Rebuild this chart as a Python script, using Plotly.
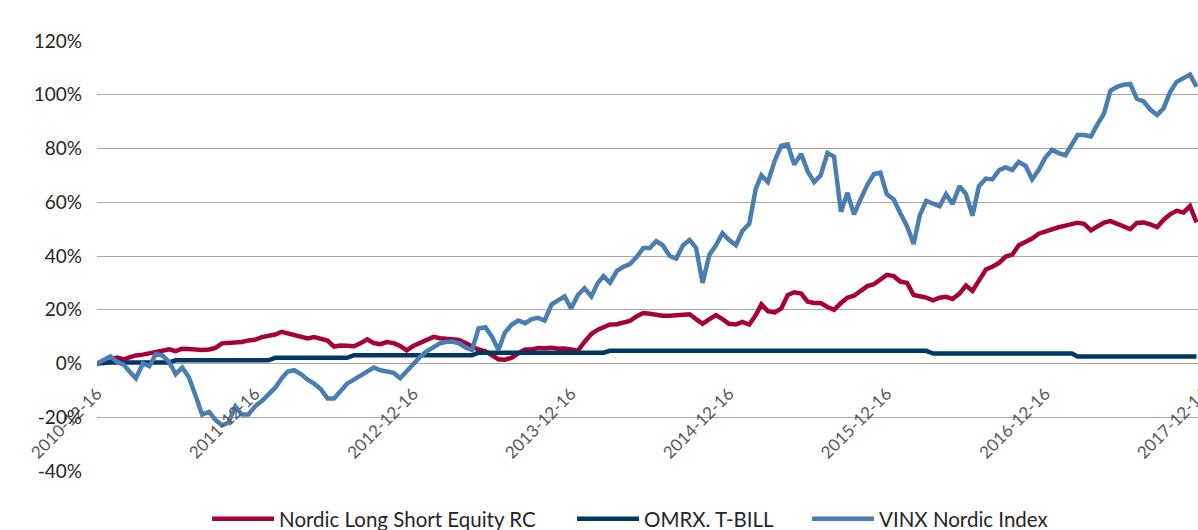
import plotly.graph_objects as go

# semi-monthly observation dates
dates = [
    "2010-12-16",
    "2011-01-01", "2011-01-16", "2011-02-01", "2011-02-16", "2011-03-01", "2011-03-16",
    "2011-04-01", "2011-04-16", "2011-05-01", "2011-05-16", "2011-06-01", "2011-06-16",
    "2011-07-01", "2011-07-16", "2011-08-01", "2011-08-16", "2011-09-01", "2011-09-16",
    "2011-10-01", "2011-10-16", "2011-11-01", "2011-11-16", "2011-12-01", "2011-12-16",
    "2012-01-01", "2012-01-16", "2012-02-01", "2012-02-16", "2012-03-01", "2012-03-16",
    "2012-04-01", "2012-04-16", "2012-05-01", "2012-05-16", "2012-06-01", "2012-06-16",
    "2012-07-01", "2012-07-16", "2012-08-01", "2012-08-16", "2012-09-01", "2012-09-16",
    "2012-10-01", "2012-10-16", "2012-11-01", "2012-11-16", "2012-12-01", "2012-12-16",
    "2013-01-01", "2013-01-16", "2013-02-01", "2013-02-16", "2013-03-01", "2013-03-16",
    "2013-04-01", "2013-04-16", "2013-05-01", "2013-05-16", "2013-06-01", "2013-06-16",
    "2013-07-01", "2013-07-16", "2013-08-01", "2013-08-16", "2013-09-01", "2013-09-16",
    "2013-10-01", "2013-10-16", "2013-11-01", "2013-11-16", "2013-12-01", "2013-12-16",
    "2014-01-01", "2014-01-16", "2014-02-01", "2014-02-16", "2014-03-01", "2014-03-16",
    "2014-04-01", "2014-04-16", "2014-05-01", "2014-05-16", "2014-06-01", "2014-06-16",
    "2014-07-01", "2014-07-16", "2014-08-01", "2014-08-16", "2014-09-01", "2014-09-16",
    "2014-10-01", "2014-10-16", "2014-11-01", "2014-11-16", "2014-12-01", "2014-12-16",
    "2015-01-01", "2015-01-16", "2015-02-01", "2015-02-16", "2015-03-01", "2015-03-16",
    "2015-04-01", "2015-04-16", "2015-05-01", "2015-05-16", "2015-06-01", "2015-06-16",
    "2015-07-01", "2015-07-16", "2015-08-01", "2015-08-16", "2015-09-01", "2015-09-16",
    "2015-10-01", "2015-10-16", "2015-11-01", "2015-11-16", "2015-12-01", "2015-12-16",
    "2016-01-01", "2016-01-16", "2016-02-01", "2016-02-16", "2016-03-01", "2016-03-16",
    "2016-04-01", "2016-04-16", "2016-05-01", "2016-05-16", "2016-06-01", "2016-06-16",
    "2016-07-01", "2016-07-16", "2016-08-01", "2016-08-16", "2016-09-01", "2016-09-16",
    "2016-10-01", "2016-10-16", "2016-11-01", "2016-11-16", "2016-12-01", "2016-12-16",
    "2017-01-01", "2017-01-16", "2017-02-01", "2017-02-16", "2017-03-01", "2017-03-16",
    "2017-04-01", "2017-04-16", "2017-05-01", "2017-05-16", "2017-06-01", "2017-06-16",
    "2017-07-01", "2017-07-16", "2017-08-01", "2017-08-16", "2017-09-01", "2017-09-16",
    "2017-10-01", "2017-10-16", "2017-11-01", "2017-11-16", "2017-12-01",
]

# cumulative return, %
nordic_ls = [
    0,
    1, 1.5, 2.2, 1.5, 2.3, 3, 3.3, 3.8, 4.2, 4.8, 5.3, 4.6,
    5.5, 5.4, 5, 5, 5.2, 5.8, 7.5, 7.6, 7.8, 8, 8.6, 8.8,
    9.8, 10.2, 10.8, 11.8, 11.3, 10.6, 10, 9.3, 9.8, 9.2, 8.5, 6.3,
    6.7, 6.6, 6.4, 7.5, 9, 7.6, 7.2, 8, 7.6, 6.5, 4.9, 6.5,
    7.8, 8.9, 9.9, 9.4, 9.3, 9.1, 8.8, 7.6, 6.2, 5.2, 4.5, 2.8,
    1.6, 1.4, 2.2, 3.8, 5.2, 5.2, 5.8, 5.7, 5.9, 5.5, 5.6, 5.2,
    4.8, 8, 11, 12.6, 13.5, 14.5, 14.6, 15, 15.8, 17.5, 18.8, 18.5,
    18, 17.8, 17.8, 18, 18.5, 18.3, 16.5, 14.8, 16.5, 18, 16.5, 14.8,
    14.5, 15.5, 14.5, 18, 22, 19.5, 19, 20.5, 25.5, 26.5, 26, 23,
    22.5, 22.5, 21, 20, 22.5, 24.5, 25.2, 27, 28.8, 29.5, 31.5, 33,
    32.5, 30.5, 30, 25.5, 25, 24.5, 23.5, 24.5, 24.8, 24, 26, 29,
    27, 31, 35, 36, 37.5, 39.8, 40.5, 44, 45.3, 46.5, 48.3, 49.2,
    50, 50.7, 51.3, 52, 52.4, 52, 49.5, 51, 52.4, 53, 51.8, 50.8,
    50, 52.3, 52.5, 51.8, 50.8, 53.5, 55.5, 56.8, 56.2, 58.5, 52.5,
]

omrx_tbill = [
    0,
    0.4, 0.4, 0.4, 0.4, 0.4, 0.4, 0.4, 0.4, 0.4, 0.4, 0.4, 1.2,
    1.2, 1.2, 1.2, 1.2, 1.2, 1.2, 1.2, 1.2, 1.2, 1.2, 1.2, 1.2,
    1.2, 1.2, 2.1, 2.1, 2.1, 2.1, 2.1, 2.1, 2.1, 2.1, 2.1, 2.1,
    2.1, 2.1, 3.1, 3.1, 3.1, 3.1, 3.1, 3.1, 3.1, 3.1, 3.1, 3.1,
    3.1, 3.1, 3.1, 3.1, 3.1, 3.1, 3.1, 3.1, 3.1, 4.0, 4.0, 4.0,
    4.0, 4.0, 4.0, 4.0, 4.0, 4.0, 4.0, 4.0, 4.0, 4.0, 4.0, 4.0,
    4.0, 4.0, 4.0, 4.0, 4.0, 4.7, 4.7, 4.7, 4.7, 4.7, 4.7, 4.7,
    4.7, 4.7, 4.7, 4.7, 4.7, 4.7, 4.7, 4.7, 4.7, 4.7, 4.7, 4.7,
    4.7, 4.7, 4.7, 4.7, 4.7, 4.7, 4.7, 4.7, 4.7, 4.7, 4.7, 4.7,
    4.7, 4.7, 4.7, 4.7, 4.7, 4.7, 4.7, 4.7, 4.7, 4.7, 4.7, 4.7,
    4.7, 4.7, 4.7, 4.7, 4.7, 4.7, 3.7, 3.7, 3.7, 3.7, 3.7, 3.7,
    3.7, 3.7, 3.7, 3.7, 3.7, 3.7, 3.7, 3.7, 3.7, 3.7, 3.7, 3.7,
    3.7, 3.7, 3.7, 3.7, 2.6, 2.6, 2.6, 2.6, 2.6, 2.6, 2.6, 2.6,
    2.6, 2.6, 2.6, 2.6, 2.6, 2.6, 2.6, 2.6, 2.6, 2.6, 2.6,
]

vinx_nordic = [
    0,
    1.5, 2.6, 0.5, -0.5, -3, -5.5, 0, -1, 3.5, 3, 0.5, -4,
    -1.5, -5, -12, -19, -18, -21, -23, -22, -16, -19, -19, -16,
    -14, -11.5, -9, -5.5, -3, -2.5, -4, -6, -7.5, -9.5, -13, -13,
    -10.5, -7.5, -6, -4.5, -3, -1.5, -2.5, -3, -3.5, -5.5, -3, 0,
    2.5, 4.5, 6, 7.5, 8, 8.2, 7.5, 6, 5, 13, 13.5, 10,
    5, 11.5, 14.5, 16, 15, 16.5, 17, 16, 22, 23.5, 25, 20.5,
    25.5, 28, 25, 30, 32.5, 30, 34.5, 36, 37, 39.5, 43, 43,
    45.5, 44, 40, 39, 44, 46, 43, 30, 40.5, 44, 48.5, 46,
    44, 49.3, 52, 65, 70, 67.5, 75.5, 81, 81.5, 74, 78, 71.5,
    67.5, 70, 78.3, 77, 56.5, 63.5, 55.5, 61, 66.5, 70.5, 71, 63,
    61, 56, 51, 44.5, 55, 60.5, 59.5, 58.5, 63, 59.3, 66, 63,
    55, 66, 68.8, 68.5, 72, 73, 72, 75, 73.5, 68.5, 72, 76.5,
    79.5, 78.3, 77.5, 81.5, 85, 85, 84.5, 89, 93, 101.5, 103, 103.7,
    104, 98.5, 97.5, 94.5, 92.5, 95, 101, 104.8, 106, 107.5, 103,
]

x_ticks = ["2010-12-16", "2011-12-16", "2012-12-16", "2013-12-16",
           "2014-12-16", "2015-12-16", "2016-12-16", "2017-12-16"]
y_ticks = [-40, -20, 0, 20, 40, 60, 80, 100, 120]
y_labels = ["-40%", "-20%", "0%", "20%", "40%", "60%", "80%", "100%", "120%"]

series = [
    ("Nordic Long Short Equity RC", nordic_ls, "#A6003A", "legend"),
    ("OMRX. T-BILL", omrx_tbill, "#003865", "legend2"),
    ("VINX Nordic Index", vinx_nordic, "#4A7DB0", "legend3"),
]

FONT = "Lato, 'Open Sans', sans-serif"

fig = go.Figure()
for name, vals, col, leg in series:
    fig.add_trace(go.Scatter(
        x=dates, y=vals, name=name, mode="lines",
        line=dict(color=col, width=4.5),
        hoverinfo="skip", legend=leg,
    ))


def legend_box(xpos):
    return dict(
        orientation="h", x=xpos, xanchor="left", y=-0.1116, yanchor="middle",
        font=dict(size=20.5, color="#262626", family=FONT),
        itemwidth=62, bgcolor="rgba(0,0,0,0)", borderwidth=0,
    )


fig.update_layout(
    width=1213, height=530,
    margin=dict(l=97, r=10, t=41, b=59, autoexpand=False),
    paper_bgcolor="white", plot_bgcolor="white",
    font=dict(family=FONT, color="#404040"),
    showlegend=True,
    legend=legend_box(0.0995),
    legend2=legend_box(0.4295),
    legend3=legend_box(0.6420),
    xaxis=dict(
        type="date", range=["2010-12-16", "2017-12-16"],
        tickmode="array", tickvals=x_ticks, ticktext=x_ticks,
        tickangle=-45, anchor="free", position=0.25,
        showgrid=False, zeroline=False, showline=False, ticks="",
        ticklabelstandoff=16,
        tickfont=dict(size=17, color="#595959", family=FONT),
    ),
    yaxis=dict(
        range=[-40, 120], tickmode="array", tickvals=y_ticks, ticktext=y_labels,
        showgrid=True, gridcolor="#A6A6A6", gridwidth=1.3,
        zeroline=False, showline=False, ticks="",
        ticklabelstandoff=14,
        tickfont=dict(size=19, color="#262626", family=FONT),
    ),
)

post = ("document.body.style.margin='0';"
        "document.body.style.overflow='hidden';"
        "document.documentElement.style.overflow='hidden';")
fig.write_html("out.html", post_script=post, config={"displayModeBar": False})
